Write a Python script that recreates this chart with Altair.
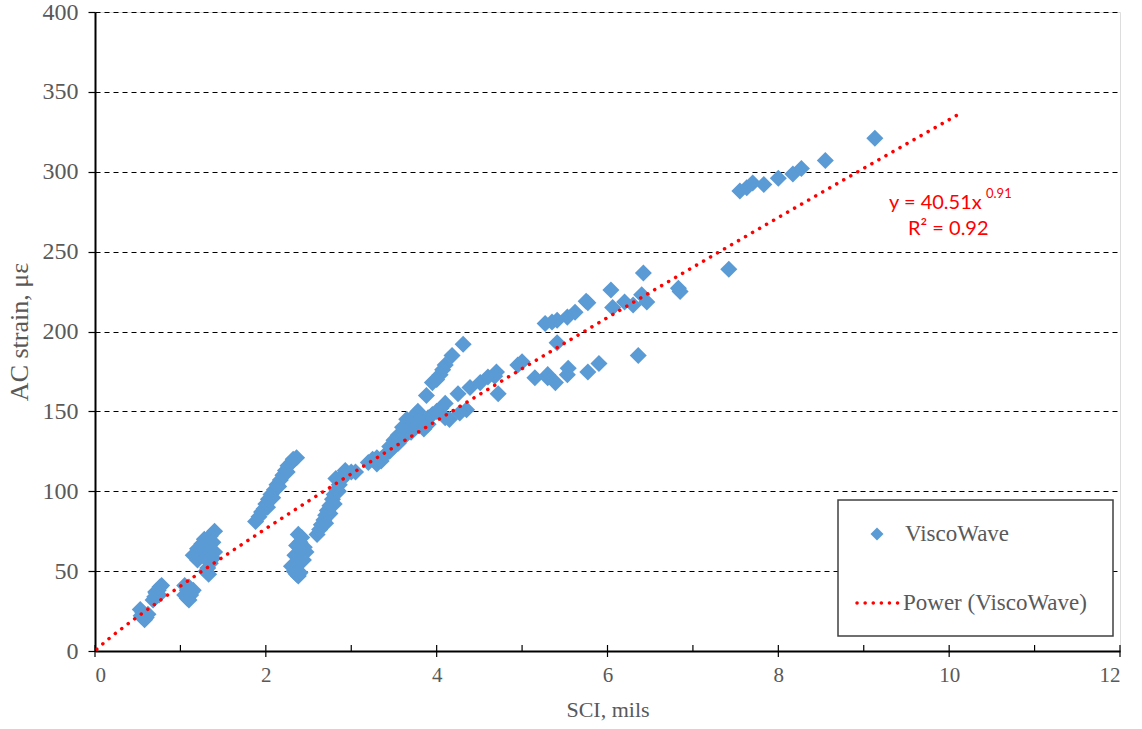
import altair as alt
import pandas as pd

# ---- data ----
sci = [0.53, 0.56, 0.60, 0.58, 0.54, 0.62,
       0.68, 0.70, 0.72, 0.74, 0.76, 0.78, 0.71, 0.75,
       1.05, 1.08, 1.10, 1.12, 1.08, 1.10, 1.13, 1.05, 1.15, 1.10,
       1.15, 1.20, 1.25, 1.30, 1.35, 1.40, 1.30, 1.32, 1.35, 1.38, 1.40, 1.38, 1.25, 1.28, 1.20, 1.30, 1.33,
       1.88, 1.92, 1.95, 1.98, 2.00, 2.03, 2.06, 2.10, 2.13, 2.17, 2.20, 2.23, 2.26, 2.30, 2.36, 2.02, 2.08, 2.15, 2.25, 2.32,
       2.30, 2.33, 2.36, 2.38, 2.40, 2.35, 2.38, 2.40, 2.42, 2.45, 2.40, 2.42, 2.38, 2.36, 2.34, 2.44, 2.47,
       2.60, 2.63, 2.65, 2.68, 2.70, 2.72, 2.75, 2.78, 2.80, 2.83, 2.86, 2.88, 2.90, 2.93, 2.70, 2.75, 2.80, 2.85, 2.82, 2.95, 3.00, 3.05,
       3.20, 3.25, 3.30, 3.35, 3.40, 3.45, 3.50, 3.55, 3.60, 3.62, 3.65, 3.68, 3.70, 3.72, 3.75, 3.78, 3.80, 3.85, 3.90, 3.95, 4.00, 4.05, 4.10,
       3.50, 3.55, 3.60, 3.65, 3.70, 3.75, 3.80, 3.85, 3.90, 3.30, 3.45, 4.10, 4.15,
       3.88, 3.95, 4.04, 4.10, 4.18, 4.31, 4.00, 4.07,
       4.27, 4.35, 4.25, 4.39, 4.51, 4.60, 4.70, 4.72, 4.68,
       4.95, 5.00, 5.15, 5.30, 5.39, 5.54, 5.53, 5.77, 5.90, 5.41, 6.36, 5.27, 5.35, 5.41, 5.53, 5.62, 5.77, 6.04, 6.06,
       6.20, 6.30, 6.42, 6.40, 6.46, 6.83, 6.85, 5.30, 5.75,
       7.42, 7.55, 7.63, 7.70, 7.83, 8.00, 8.17, 8.27, 8.55, 9.13]
strain = [26, 24, 21, 19.5, 22, 23,
          32, 34, 36, 38, 40, 41, 37, 35,
          35, 33, 32, 35, 38, 40, 37, 41, 38, 36,
          60, 57, 62, 65, 72, 75, 50, 52, 55, 58, 62, 68, 67, 70, 64, 58, 48,
          81, 84, 87, 89, 92, 95, 98, 101, 104, 107, 110, 113, 116, 118, 121, 90, 96, 103, 112, 120,
          53, 50, 48, 47, 49, 55, 58, 61, 63, 65, 68, 71, 73, 66, 60, 57, 62,
          73, 76, 79, 82, 85, 88, 91, 95, 98, 101, 104, 107, 110, 113, 80, 86, 92, 100, 108, 111, 112, 112,
          118, 120, 121, 119, 123, 125, 128, 130, 133, 136, 138, 141, 143, 146, 148, 150, 145, 143, 146, 148, 150, 152, 155,
          132, 135, 140, 145, 137, 140, 141, 139, 142, 117, 128, 146, 145,
          160, 168, 173, 179, 185, 192, 170, 176,
          149, 151, 161, 165, 168, 171.5, 174.6, 161, 172,
          179, 181, 171, 171, 168, 177, 173, 174.6, 180, 193, 185, 205, 206, 207, 209, 212, 218, 226, 215,
          218.5, 216.6, 236.6, 223, 218.5, 227, 225, 173, 219,
          239, 288, 290, 293, 292, 296, 298.6, 302, 307, 321]

x_major = [0, 2, 4, 6, 8, 10, 12]
x_minor = [1, 3, 5, 7, 9, 11]
y_ticks = list(range(0, 401, 25))

series_name = "ViscoWave"
trend_name = "Power (ViscoWave)"
eq_text = "y = 40.51x"
eq_exp = "0.91"
r2_text = "R² = 0.92"

BLUE = "#5B9BD5"
RED = "#FF0000"
GREY = "#595959"
SERIF = "Liberation Serif"

W, H = 1025, 639

df = pd.DataFrame({"x": sci, "y": strain})
df_major = pd.DataFrame({"t": x_major})
df_minor = pd.DataFrame({"t": x_minor})

xscale = alt.Scale(domain=[0, 12], nice=False, zero=False)
yscale = alt.Scale(domain=[0, 400], nice=False)

xaxis = alt.Axis(
    title="SCI, mils", values=x_major, ticks=False, grid=False,
    domainColor="#000000", domainWidth=2,
    labelFont=SERIF, labelFontSize=21, labelColor=GREY, labelPadding=13,
    titleFont=SERIF, titleFontSize=22, titleColor=GREY, titleFontWeight="normal",
    titlePadding=14, format="d",
)
yaxis = alt.Axis(
    title="AC strain, με", values=y_ticks,
    labelExpr="datum.value % 50 === 0 ? datum.label : ''",
    tickSize={"condition": {"test": "datum.value % 50 === 0", "value": 7}, "value": 6},
    tickColor="#000000", tickWidth=1.2,
    domainColor="#000000", domainWidth=2,
    grid=True, gridColor="#000000", gridDash=[5, 4], gridWidth=1,
    gridOpacity={"condition": {"test": "datum.value % 50 === 0 && datum.value > 0", "value": 1}, "value": 0},
    labelFont=SERIF, labelFontSize=24, labelColor=GREY, labelPadding=10,
    titleFont=SERIF, titleFontSize=26, titleColor=GREY, titleFontWeight="normal",
    titlePadding=10,
)

base = alt.Chart(df)

points = base.mark_point(shape="diamond", filled=True, size=290, opacity=1, color=BLUE).encode(
    x=alt.X("x:Q", scale=xscale, axis=xaxis),
    y=alt.Y("y:Q", scale=yscale, axis=yaxis),
)

trend = base.transform_regression(
    "x", "y", method="pow", extent=[0.02, 10.13]
).mark_line(
    color=RED, strokeWidth=3.5, strokeDash=[0.1, 8], strokeCap="round"
).encode(x=alt.X("x:Q", scale=xscale), y=alt.Y("y:Q", scale=yscale))

major_ticks = alt.Chart(df_major).mark_rule(color="#000000", strokeWidth=1.2).encode(
    x=alt.X("t:Q", scale=xscale), y=alt.value(H - 6), y2=alt.value(H + 6)
)
minor_ticks = alt.Chart(df_minor).mark_rule(color="#000000", strokeWidth=1.2).encode(
    x=alt.X("t:Q", scale=xscale), y=alt.value(H - 6), y2=alt.value(H)
)

one = alt.Chart(df_major).transform_filter("datum.t == 0")

eq1 = one.mark_text(
    text=eq_text, font="Lato", fontSize=20, color=RED, align="left", baseline="middle"
).encode(x=alt.value(794), y=alt.value(191))
eq2 = one.mark_text(
    text=eq_exp, font="Lato", fontSize=13, color=RED, align="left", baseline="middle"
).encode(x=alt.value(891), y=alt.value(182))
eq3 = one.mark_text(
    text=r2_text, font="Lato", fontSize=20, color=RED, align="left", baseline="middle"
).encode(x=alt.value(813), y=alt.value(217))

leg_box = one.mark_rect(fill="white", stroke="#404040", strokeWidth=1.5).encode(
    x=alt.value(743), x2=alt.value(1018), y=alt.value(488), y2=alt.value(624)
)
leg_sym = one.mark_point(shape="diamond", filled=True, size=170, opacity=1, color=BLUE).encode(
    x=alt.value(782), y=alt.value(522)
)
leg_t1 = one.mark_text(text=series_name, font=SERIF, fontSize=23, color=GREY, align="left",
                       baseline="middle").encode(x=alt.value(810), y=alt.value(522))
leg_line = one.mark_rule(color=RED, strokeWidth=3.5, strokeDash=[0.1, 8], strokeCap="round").encode(
    x=alt.value(762), x2=alt.value(803), y=alt.value(591)
)
leg_t2 = one.mark_text(text=trend_name, font=SERIF, fontSize=23, color=GREY, align="left",
                       baseline="middle").encode(x=alt.value(808), y=alt.value(591))

chart = alt.layer(
    points, trend, major_ticks, minor_ticks, eq1, eq2, eq3,
    leg_box, leg_sym, leg_t1, leg_line, leg_t2
).properties(
    width=W, height=H,
    autosize=alt.AutoSizeParams(type="none"),
    padding={"left": 95, "top": 12, "right": 22, "bottom": 78},
).configure_view(stroke=None).configure(background="white")

chart.save("out.html", embed_options={"renderer": "svg", "actions": False})
